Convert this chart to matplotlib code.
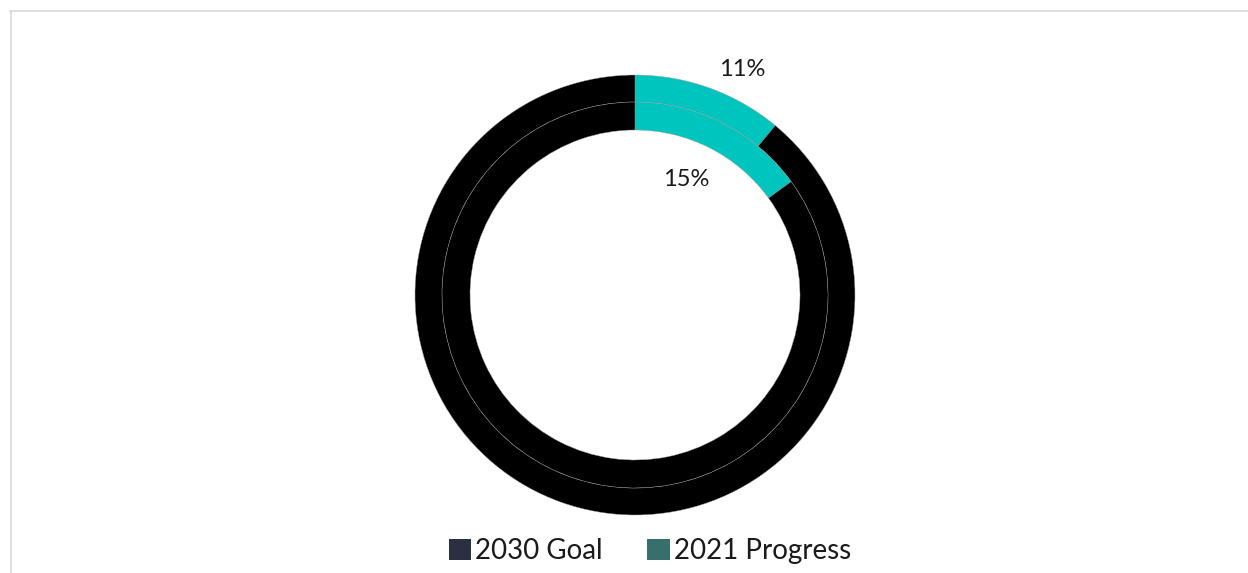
import numpy as np
import matplotlib
matplotlib.use("Agg")
import matplotlib.pyplot as plt
from matplotlib.patches import Patch
from matplotlib.lines import Line2D

plt.rcParams['font.family'] = ['Lato', 'DejaVu Sans']

# Share of the way to the target, outer ring and inner ring.
series = ["2030 Goal", "2021 Progress"]
outer_pct = 11
inner_pct = 15
legend_colors = ["#2b2f42", "#376f6c"]

teal = "#00c5bf"
W, H = 1248, 573
fig = plt.figure(figsize=(W / 100, H / 100), dpi=100)

# Pie axes: 440 px square, centred at (635, 295) from the top-left.
cx, cy, R = 635, 295, 220
ax = fig.add_axes([(cx - R) / W, (H - cy - R) / H, 2 * R / W, 2 * R / H])
ax.set_xlim(-1, 1)
ax.set_ylim(-1, 1)
ax.set_aspect('equal')
ax.axis('off')

edge = dict(edgecolor='#9a9a9a', linewidth=0.3)
ax.pie([outer_pct, 100 - outer_pct], radius=1.0, startangle=90, counterclock=False,
       colors=[teal, 'black'], wedgeprops=dict(width=27 / R, **edge))
ax.pie([inner_pct, 100 - inner_pct], radius=193 / R, startangle=90, counterclock=False,
       colors=[teal, 'black'], wedgeprops=dict(width=28 / R, **edge))
ax.set_xlim(-1, 1)
ax.set_ylim(-1, 1)

lbl = dict(ha='center', va='center', fontsize=17, color='#1a1a1a')
ax.text(107 / R, 226 / R, f"{outer_pct}%", **lbl)
ax.text(51 / R, 116 / R, f"{inner_pct}%", **lbl)

handles = [Patch(facecolor=c, edgecolor='none') for c in legend_colors]
fig.legend(handles, series, loc='center', bbox_to_anchor=(650 / W, 1 - 551 / H),
           ncol=2, frameon=False, fontsize=20, handlelength=0.8, handleheight=0.8,
           handletextpad=0.15, columnspacing=1.6, labelcolor='#1a1a1a')

# Light frame along the top and left.
fig.add_artist(Line2D([10 / W, 1], [1 - 10.5 / H, 1 - 10.5 / H], transform=fig.transFigure,
                      color='#d9d9d9', linewidth=1.2))
fig.add_artist(Line2D([10.5 / W, 10.5 / W], [0, 1 - 10.5 / H], transform=fig.transFigure,
                      color='#d9d9d9', linewidth=1.2))

fig.savefig("out.png", dpi=100, facecolor='white')
